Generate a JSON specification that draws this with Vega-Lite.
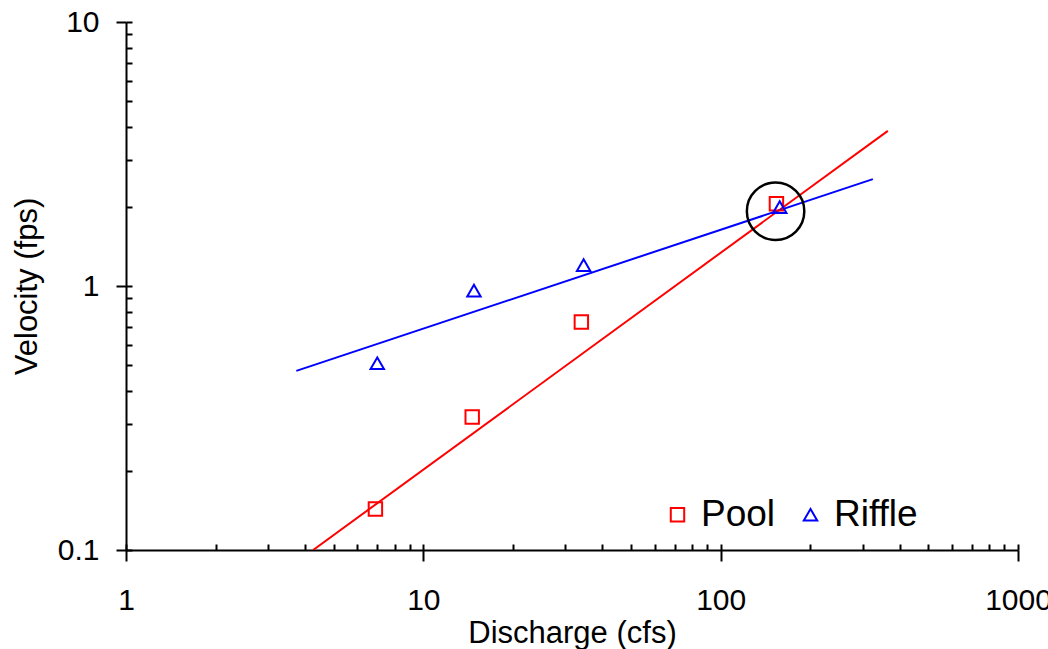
{
  "$schema": "https://vega.github.io/schema/vega-lite/v6.json",
  "width": 892,
  "height": 528,
  "autosize": "none",
  "padding": {"left": 126, "top": 22, "right": 30, "bottom": 99},
  "background": "white",
  "config": {
    "view": {"stroke": null},
    "font": "Liberation Sans",
    "axis": {
      "domainColor": "black",
      "domainWidth": 2,
      "tickColor": "black",
      "tickWidth": 2,
      "grid": false,
      "labelColor": "black",
      "titleColor": "black",
      "labelFont": "Liberation Sans",
      "titleFont": "Liberation Sans",
      "titleFontWeight": "normal",
      "labelFontSize": 30,
      "titleFontSize": 31
    },
    "legend": {"labelFont": "Liberation Sans"}
  },
  "datasets": {
    "obs": [
      {"Discharge": 6.9, "Velocity": 0.143, "Site": "Pool"},
      {"Discharge": 14.6, "Velocity": 0.319, "Site": "Pool"},
      {"Discharge": 34.0, "Velocity": 0.73, "Site": "Pool"},
      {"Discharge": 154, "Velocity": 2.05, "Site": "Pool"},
      {"Discharge": 7.0, "Velocity": 0.51, "Site": "Riffle"},
      {"Discharge": 14.8, "Velocity": 0.96, "Site": "Riffle"},
      {"Discharge": 34.6, "Velocity": 1.2, "Site": "Riffle"},
      {"Discharge": 158, "Velocity": 1.99, "Site": "Riffle"}
    ],
    "fits": [
      {"Discharge": 4.26, "Velocity": 0.1, "Site": "Pool"},
      {"Discharge": 365, "Velocity": 3.87, "Site": "Pool"},
      {"Discharge": 3.74, "Velocity": 0.477, "Site": "Riffle"},
      {"Discharge": 325, "Velocity": 2.54, "Site": "Riffle"}
    ],
    "mark": [
      {"Discharge": 153, "Velocity": 1.92}
    ]
  },
  "resolve": {"axis": {"x": "independent", "y": "independent"}},
  "layer": [
    {
      "data": {"name": "fits"},
      "transform": [{"filter": "datum.Site === 'Pool'"}],
      "mark": {"type": "line", "strokeWidth": 2, "clip": true, "color": "#ff0000"},
      "encoding": {
        "x": {
          "field": "Discharge", "type": "quantitative",
          "scale": {"type": "log", "domain": [1, 1000], "nice": false},
          "axis": {
            "orient": "bottom",
            "title": "Discharge (cfs)",
            "values": [1, 10, 100, 1000],
            "format": "~g",
            "tickSize": 11,
            "labelPadding": 24,
            "titlePadding": 3,
            "labelFlush": false,
            "labelOverlap": false
          }
        },
        "y": {
          "field": "Velocity", "type": "quantitative",
          "scale": {"type": "log", "domain": [0.1, 10], "nice": false},
          "axis": {
            "orient": "left",
            "title": "Velocity (fps)",
            "values": [0.1, 1, 10],
            "format": "~g",
            "tickSize": 10,
            "labelPadding": 17,
            "titlePadding": 14,
            "labelFlush": false,
            "labelOverlap": false
          }
        }
      }
    },
    {
      "data": {"name": "fits"},
      "transform": [{"filter": "datum.Site === 'Riffle'"}],
      "mark": {"type": "line", "strokeWidth": 2, "clip": true, "color": "#0000ff"},
      "encoding": {
        "x": {"field": "Discharge", "type": "quantitative", "axis": null},
        "y": {"field": "Velocity", "type": "quantitative", "axis": null}
      }
    },
    {
      "data": {"name": "obs"},
      "mark": {"type": "point", "filled": false, "strokeWidth": 2, "opacity": 1},
      "encoding": {
        "x": {
          "field": "Discharge", "type": "quantitative",
          "axis": {
            "orient": "bottom",
            "title": null,
            "labels": false,
            "domain": false,
            "tickSize": -6,
            "values": [1,2,3,4,5,6,7,8,9,10,20,30,40,50,60,70,80,90,100,200,300,400,500,600,700,800,900,1000]
          }
        },
        "y": {
          "field": "Velocity", "type": "quantitative",
          "axis": {
            "orient": "left",
            "title": null,
            "labels": false,
            "domain": false,
            "tickSize": -6,
            "values": [0.1,0.2,0.3,0.4,0.5,0.6,0.7,0.8,0.9,1,2,3,4,5,6,7,8,9,10]
          }
        },
        "color": {
          "field": "Site", "type": "nominal",
          "scale": {"domain": ["Pool", "Riffle"], "range": ["#ff0000", "#0000ff"]},
          "legend": {
            "title": null,
            "orient": "none",
            "direction": "horizontal",
            "legendX": 533,
            "legendY": 474,
            "labelFontSize": 37,
            "labelColor": "black",
            "symbolSize": 180,
            "symbolStrokeWidth": 2,
            "labelOffset": 5,
            "columnPadding": 16,
            "padding": 0
          }
        },
        "shape": {
          "field": "Site", "type": "nominal",
          "scale": {"domain": ["Pool", "Riffle"], "range": ["square", "triangle-up"]},
          "legend": {
            "title": null,
            "orient": "none",
            "direction": "horizontal",
            "legendX": 533,
            "legendY": 474,
            "labelFontSize": 37,
            "labelColor": "black",
            "symbolSize": 180,
            "symbolStrokeWidth": 2,
            "labelOffset": 5,
            "columnPadding": 16,
            "padding": 0
          }
        },
        "size": {"value": 180}
      }
    },
    {
      "data": {"name": "mark"},
      "mark": {"type": "point", "shape": "circle", "filled": false, "size": 3300, "stroke": "black", "strokeWidth": 2.5, "opacity": 1},
      "encoding": {
        "x": {"field": "Discharge", "type": "quantitative", "axis": null},
        "y": {"field": "Velocity", "type": "quantitative", "axis": null}
      }
    }
  ]
}
